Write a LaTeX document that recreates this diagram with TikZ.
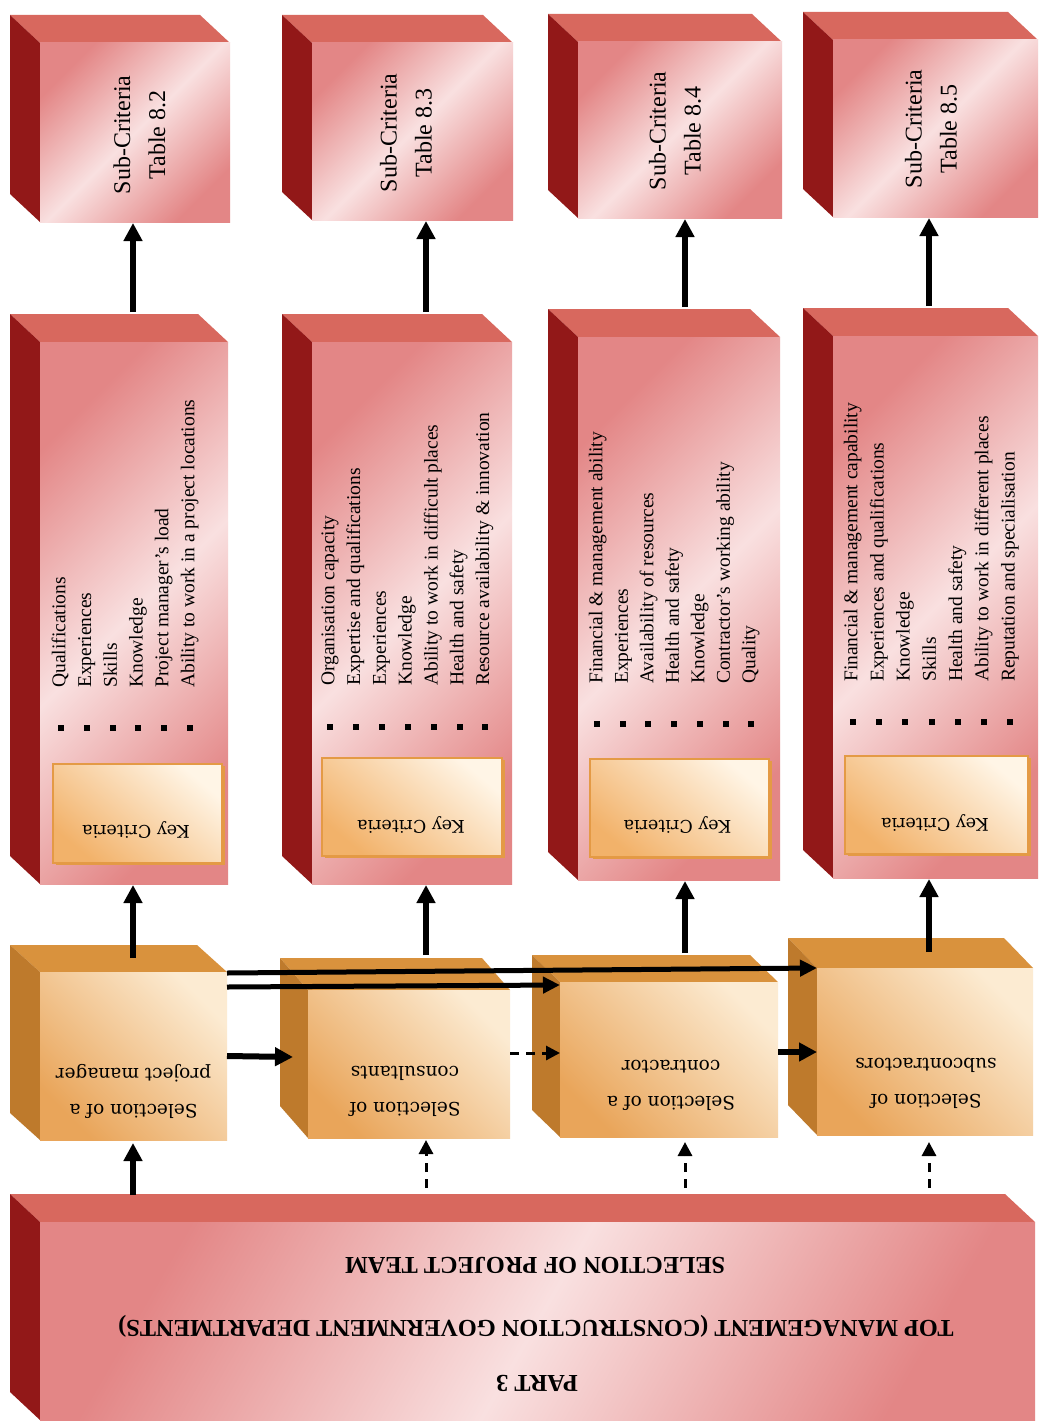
\documentclass[tikz,border=0pt]{standalone}
\usepackage{fontspec}
\setmainfont{Liberation Serif}
\newfontfamily\centfont{DejaVu Serif}
\usetikzlibrary{arrows.meta,calc,shadows}

\definecolor{pkl}{HTML}{F9E0E0}
\definecolor{pkd}{HTML}{E38686}
\definecolor{pktop}{HTML}{D8685E}
\definecolor{pkside}{HTML}{921818}
\definecolor{orl}{HTML}{FCEBD2}
\definecolor{ord}{HTML}{E9A55A}
\definecolor{ortop}{HTML}{D9923D}
\definecolor{orside}{HTML}{BE7A2C}
\definecolor{keyl}{HTML}{FFF5E6}
\definecolor{keyd}{HTML}{F2B26A}
\definecolor{keyb}{HTML}{E49A45}

% #1 name, #2 face style, #3 top colour, #4 side colour, #5 x1, #6 y1, #7 x2, #8 y2
\newcommand{\cuboid}[8]{%
  \fill[#3] ({#5-\cdx},{#6-\cdy}) -- ({#7-\cdx},{#6-\cdy}) -- (#7,#6) -- (#5,#6) -- cycle;
  \fill[#4] ({#5-\cdx},{#6-\cdy}) -- (#5,#6) -- (#5,#8) -- ({#5-\cdx},{#8-\cdy}) -- cycle;
  \node[#2, minimum width={#7-#5}, minimum height={#8-#6}] (#1) at ({(#5+#7)/2},{(#6+#8)/2}) {};
}

\begin{document}
\begin{tikzpicture}[x=1pt,y=-1pt,
  pinkface/.style={inner sep=0pt, outer sep=0pt, top color=pkd, bottom color=pkd, middle color=pkl, shading angle=45},
  bannerface/.style={inner sep=0pt, outer sep=0pt, top color=pkd, bottom color=pkd, middle color=pkl, shading angle=60},
  orface/.style={inner sep=0pt, outer sep=0pt, top color=orl, bottom color=ord, shading angle=-45},
  keybox/.style={inner sep=0pt, outer sep=0pt, draw=keyb, line width=1.2pt, top color=keyl, bottom color=keyd, shading angle=-40,
     drop shadow={shadow xshift=3pt, shadow yshift=-2pt, fill=keyb, opacity=1}},
  subtxt/.style={rotate=90, align=center, inner sep=0pt, font=\fontsize{24}{35}\selectfont},
  listtxt/.style={rotate=90, anchor=mid west, inner sep=0pt, font=\fontsize{19.5}{24}\selectfont},
  keytxt/.style={rotate=180, inner sep=0pt, font=\centfont\fontsize{17.5}{21}\selectfont},
  seltxt/.style={rotate=180, align=center, inner sep=0pt, font=\centfont\fontsize{18.5}{36}\selectfont},
  bantxt/.style={rotate=180, inner sep=0pt, font=\bfseries\fontsize{24.3}{28}\selectfont},
  arr/.style={line width=6pt, -{Triangle[length=18pt,width=18pt]}},
  longarr/.style={line width=5pt, -{Triangle[length=17pt,width=16pt]}},
  darr/.style={line width=3pt, dash pattern=on 9pt off 7pt, -{Triangle[length=14pt,width=14pt]}},
  bullet/.style={fill=black}
]
\useasboundingbox[fill=white] (0,0) rectangle (1041,1426);

% ---------- top boxes ----------
\def\cdx{30}\def\cdy{28}
\cuboid{T1}{pinkface}{pktop}{pkside}{40}{43}{230}{222}
\cuboid{T2}{pinkface}{pktop}{pkside}{312}{43}{513}{220}
\cuboid{T3}{pinkface}{pktop}{pkside}{578}{42}{782}{218}
\cuboid{T4}{pinkface}{pktop}{pkside}{833}{40}{1038}{217}

\node[subtxt] (T1t) at (139.5,135) {Sub-Criteria\\Table 8.2};
\node[subtxt] (T2t) at (406,133) {Sub-Criteria\\Table 8.3};
\node[subtxt] (T3t) at (675,131) {Sub-Criteria\\Table 8.4};
\node[subtxt] (T4t) at (931,129) {Sub-Criteria\\Table 8.5};

% ---------- middle boxes ----------
\cuboid{M1}{pinkface}{pktop}{pkside}{40}{342}{228}{884}
\cuboid{M2}{pinkface}{pktop}{pkside}{312}{342}{512}{884}
\cuboid{M3}{pinkface}{pktop}{pkside}{578}{337}{780}{880}
\cuboid{M4}{pinkface}{pktop}{pkside}{833}{336}{1038}{878}

\node[keybox, minimum width=169, minimum height=99] (K1) at (137.5,813.5) {};
\node[keybox, minimum width=180, minimum height=98] (K2) at (412,807) {};
\node[keybox, minimum width=179, minimum height=98] (K3) at (679.5,808) {};
\node[keybox, minimum width=183, minimum height=98] (K4) at (936.5,805) {};
\node[keytxt] (K1t) at (136,830) {Key Criteria};
\node[keytxt] (K2t) at (411,825) {Key Criteria};
\node[keytxt] (K3t) at (677.5,825) {Key Criteria};
\node[keytxt] (K4t) at (935,823) {Key Criteria};

\foreach \t [count=\i from 0] in {Qualifications, Experiences, Skills, Knowledge, Project manager's load, Ability to work in a project locations}{
  \node[listtxt] (La\i) at ({63+25.8*\i},688) {\t};
  \fill[bullet] ({61+25.8*\i-3},725) rectangle ({61+25.8*\i+3},731);
}
\foreach \t [count=\i from 0] in {Organisation capacity, Expertise and qualifications, Experiences, Knowledge, Ability to work in difficult places, Health and safety, Resource availability \& innovation}{
  \node[listtxt] (Lb\i) at ({332+25.8*\i},686) {\t};
  \fill[bullet] ({330+25.9*\i-3},724) rectangle ({330+25.9*\i+3},730);
}
\foreach \t [count=\i from 0] in {Financial \& management ability, Experiences, Availability of resources, Health and safety, Knowledge, Contractor's working ability, Quality}{
  \node[listtxt] (Lc\i) at ({600+25.5*\i},684) {\t};
  \fill[bullet] ({597+25.7*\i-3},721) rectangle ({597+25.7*\i+3},727);
}
\foreach \t [count=\i from 0] in {Financial \& management capability, Experiences and qualifications, Knowledge, Skills, Health and safety, Ability to work in different places, Reputation and specialisation}{
  \node[listtxt] (Ld\i) at ({855+26.2*\i},682) {\t};
  \fill[bullet] ({853+26.2*\i-3},719) rectangle ({853+26.2*\i+3},725);
}

% ---------- orange boxes ----------
\def\cdx{30}\def\cdy{27}
\cuboid{O1}{orface}{ortop}{orside}{40}{972}{227}{1140}
\def\cdx{28}\def\cdy{32}
\cuboid{O2}{orface}{ortop}{orside}{308}{990}{510}{1138}
\def\cdx{28}\def\cdy{27}
\cuboid{O3}{orface}{ortop}{orside}{560}{982}{778}{1137}
\def\cdx{29}\def\cdy{30}
\cuboid{O4}{orface}{ortop}{orside}{817}{968}{1033}{1135}

\node[seltxt] (O1t) at (133.5,1091) {Selection of a\\project manager};
\node[seltxt] (O2t) at (405,1091) {Selection of\\consultants};
\node[seltxt] (O3t) at (671,1085) {Selection of a\\contractor};
\node[seltxt] (O4t) at (926,1083) {Selection of\\subcontractors};

% ---------- banner ----------
\def\cdx{30}\def\cdy{28}
\cuboid{B}{bannerface}{pktop}{pkside}{40}{1222}{1035}{1420}
\node[bantxt] (B1) at (537,1383) {PART 3};
\node[bantxt] (B2) at (536,1326) {TOP MANAGEMENT (CONSTRUCTION GOVERNMENT DEPARTMENTS)};
\node[bantxt] (B3) at (535,1265) {SELECTION OF PROJECT TEAM};

% ---------- columns for vertical arrows ----------
\coordinate (c1) at (133,0);
\coordinate (c2) at (426,0);
\coordinate (c3) at (685,0);
\coordinate (c4) at (929,0);

% banner -> selection boxes
\draw[arr]  ($(c1 |- B.north)+(0,-27)$) -- ($(c1 |- O1.south)+(0,3)$);
\draw[darr] ($(c2 |- B.north)+(0,-34)$) -- ($(c2 |- O2.south)+(0,2)$);
\draw[darr] ($(c3 |- B.north)+(0,-34)$) -- ($(c3 |- O3.south)+(0,5)$);
\draw[darr] ($(c4 |- B.north)+(0,-34)$) -- ($(c4 |- O4.south)+(0,7)$);

% selection boxes -> key criteria boxes
\draw[arr] ($(c1 |- O1.north)+(0,-14)$) -- ($(c1 |- M1.south)+(0,1)$);
\draw[arr] ($(c2 |- O2.north)+(0,-35)$) -- ($(c2 |- M2.south)+(0,1)$);
\draw[arr] ($(c3 |- O3.north)+(0,-29)$) -- ($(c3 |- M3.south)+(0,1)$);
\draw[arr] ($(c4 |- O4.north)+(0,-16)$) -- ($(c4 |- M4.south)+(0,1)$);

% key criteria boxes -> sub-criteria boxes
\draw[arr] ($(c1 |- M1.north)+(0,-30)$) -- ($(c1 |- T1.south)+(0,1)$);
\draw[arr] ($(c2 |- M2.north)+(0,-30)$) -- ($(c2 |- T2.south)+(0,1)$);
\draw[arr] ($(c3 |- M3.north)+(0,-30)$) -- ($(c3 |- T3.south)+(0,1)$);
\draw[arr] ($(c4 |- M4.north)+(0,-30)$) -- ($(c4 |- T4.south)+(0,1)$);

% horizontal connectors
\draw[arr]  (O1.east) -- ($(O2.west)+(-15,-7)$);
\draw[darr] ($(O2.east)+(0,-11)$) -- ($(O3.west)+(0,-6.5)$);
\draw[arr]  ($(O3.east)+(0,-7.5)$) -- ($(O4.west)+(0,0.5)$);
\draw[longarr] ($(O1.north east)+(0,1)$) -- (O4.north west);
\draw[longarr] ($(O1.north east)+(0,15)$) -- ($(O3.north west)+(0,3)$);
\end{tikzpicture}
\end{document}
